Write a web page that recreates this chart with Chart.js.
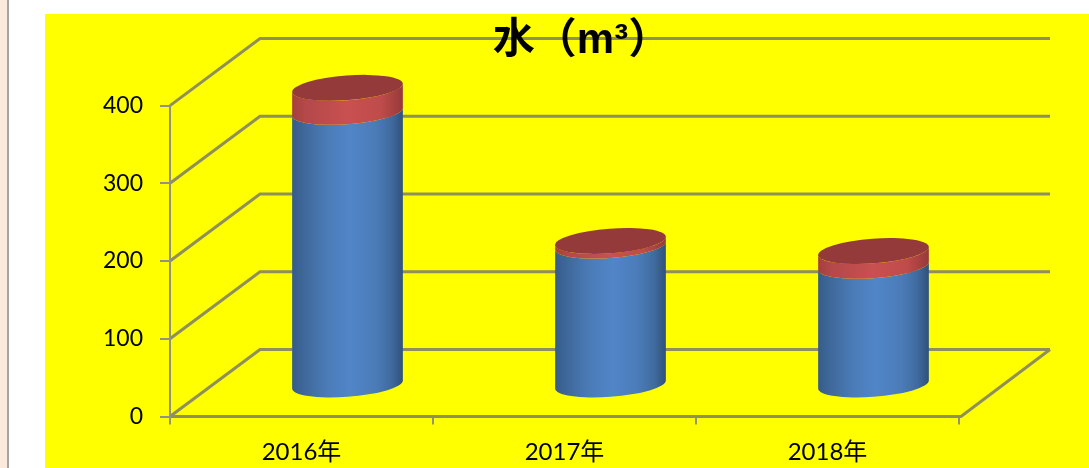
<!DOCTYPE html>
<html>
<head>
<meta charset="utf-8">
<title>水（m³）</title>
<script src="https://cdn.jsdelivr.net/npm/chart.js@4/dist/chart.umd.min.js"></script>
<style>
  html, body { margin: 0; padding: 0; background: #fff; overflow: hidden; }
  .edge { position: absolute; left: 0; top: 0; width: 7px; height: 468px; background: #fce9dd; border-right: 2px solid #a3a3a3; }
  .plot { position: absolute; left: 45px; top: 14px; width: 1044px; height: 454px; background: #ffff00; }
</style>
</head>
<body>
<div class="edge"></div>
<div class="plot"><canvas id="waterChart" width="1044" height="454"></canvas></div>
<script>
const years = ['2016年', '2017年', '2018年'];
const lowerValues = [352, 180, 154];
const upperValues = [31, 6, 19];
const yTicks = [0, 100, 200, 300, 400];

const lineColor = '#8f8f5c';
const axisColor = '#919188';

// depth of the fake 3D box
const depthX = 90;
const depthY = 67;
// cylinders stand in the middle of the floor
const barDx = 46;
const barDy = 31;
// tilted ellipse for caps
const capRy = 12.3;
const capTilt = -0.0757;

const wallPlugin = {
  id: 'walls',
  beforeDraw(chart) {
    const { ctx, chartArea: area, scales } = chart;
    ctx.save();
    ctx.strokeStyle = lineColor;
    ctx.lineWidth = 3;
    yTicks.forEach(v => {
      const y = scales.y.getPixelForValue(v);
      ctx.beginPath();
      ctx.moveTo(area.left, y);
      ctx.lineTo(area.left + depthX, y - depthY);
      ctx.lineTo(area.right + depthX + 1, y - depthY);
      ctx.stroke();
    });
    // floor front edge and right side
    ctx.beginPath();
    ctx.moveTo(area.left, area.bottom);
    ctx.lineTo(area.right + 2, area.bottom);
    ctx.lineTo(area.right + depthX + 1, area.bottom - depthY);
    ctx.stroke();
    ctx.restore();
  }
};

function shade(ctx, cx, rx, stops) {
  const g = ctx.createLinearGradient(cx - rx, 0, cx + rx, 0);
  stops.forEach(s => g.addColorStop(s[0], s[1]));
  return g;
}

function drawSegment(ctx, cx, yBottom, yTop, rx, fill) {
  const t0 = Math.atan(capRy / rx * Math.tan(-capTilt));
  ctx.beginPath();
  ctx.ellipse(cx, yBottom, rx, capRy, capTilt, t0, t0 + Math.PI, false);
  ctx.ellipse(cx, yTop, rx, capRy, capTilt, t0 + Math.PI, t0, true);
  ctx.closePath();
  ctx.fillStyle = fill;
  ctx.fill();
}

const cylinderPlugin = {
  id: 'cylinders',
  afterDatasetsDraw(chart) {
    const { ctx } = chart;
    const lower = chart.getDatasetMeta(0).data;
    const upper = chart.getDatasetMeta(1).data;
    ctx.save();
    lower.forEach((bar, i) => {
      const cx = bar.x + barDx;
      const rx = bar.width / 2;
      const blue = shade(ctx, cx, rx, [[0, '#355c8a'], [0.12, '#40699c'], [0.32, '#4b7cb8'], [0.52, '#5085c8'], [0.75, '#4b7cb8'], [0.9, '#3f6a9e'], [1, '#30507a']]);
      const red = shade(ctx, cx, rx, [[0, '#a53f3d'], [0.12, '#b4484a'], [0.5, '#c95050'], [0.8, '#bf4c4a'], [1, '#96393a']]);
      drawSegment(ctx, cx, bar.base - barDy, bar.y - barDy, rx, blue);
      drawSegment(ctx, cx, upper[i].base - barDy, upper[i].y - barDy, rx, red);
      ctx.beginPath();
      ctx.ellipse(cx, upper[i].y - barDy, rx, capRy, capTilt, 0, Math.PI * 2);
      ctx.fillStyle = '#953a3a';
      ctx.fill();
    });
    ctx.restore();
  }
};

new Chart(document.getElementById('waterChart'), {
  type: 'bar',
  data: {
    labels: years,
    datasets: [
      { data: lowerValues, backgroundColor: 'transparent', barThickness: 111 },
      { data: upperValues, backgroundColor: 'transparent', barThickness: 111 }
    ]
  },
  plugins: [wallPlugin, cylinderPlugin],
  options: {
    responsive: false,
    animation: false,
    layout: { padding: { left: 29 } },
    plugins: {
      legend: { display: false },
      tooltip: { enabled: false },
      title: {
        display: true,
        text: '水（m³）',
        color: '#000',
        font: { family: '"Liberation Sans", "Noto Sans CJK SC"', size: 42, weight: 'bold', lineHeight: 1.2 },
        padding: { top: 1.8, bottom: 39.4 }
      }
    },
    scales: {
      x: {
        stacked: true,
        afterFit(scale) { scale.height = 51.5; },
        grid: { drawOnChartArea: false, color: axisColor, lineWidth: 2, tickLength: 8 },
        border: { color: lineColor, width: 3 },
        ticks: { color: '#000', font: { family: 'Lato, "Noto Sans CJK SC"', size: 24 }, padding: 13, maxRotation: 0 }
      },
      y: {
        stacked: true,
        min: 0,
        max: 400,
        afterFit(scale) { scale.width = 96; },
        afterBuildTicks(scale) { scale.ticks = yTicks.map(v => ({ value: v })); },
        grid: { drawOnChartArea: false, color: axisColor, lineWidth: 2, tickLength: 10 },
        border: { color: axisColor, width: 2 },
        ticks: { color: '#000', font: { family: 'Lato', size: 23 }, padding: 17 }
      },
      // empty axis that keeps the room right of the box for the back wall
      y2: {
        position: 'right',
        afterFit(scale) { scale.width = 130; },
        grid: { display: false },
        border: { display: false },
        ticks: { display: false }
      }
    }
  }
});
</script>
</body>
</html>
